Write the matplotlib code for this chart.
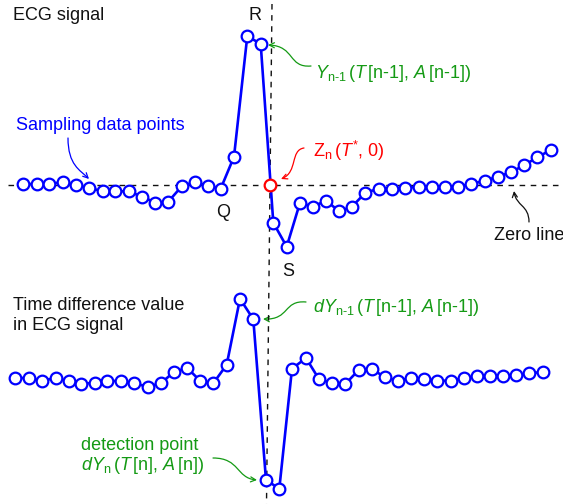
import matplotlib
matplotlib.use("Agg")
import matplotlib.pyplot as plt
from matplotlib.patches import FancyArrowPatch
from matplotlib.path import Path

plt.rcParams['font.family'] = ['Liberation Sans', 'DejaVu Sans']
plt.rcParams['mathtext.fontset'] = 'custom'
plt.rcParams['mathtext.rm'] = 'Liberation Sans'
plt.rcParams['mathtext.it'] = 'Liberation Sans:italic'

# ECG signal samples (time, amplitude), screen units
ecg_t = [22.7, 36.7, 49.3, 63.3, 76, 89.3, 102.7, 115.3, 128.7, 142, 155.3, 168, 182,
         195.3, 208, 220.7, 234, 247.3, 260.7, 273.3, 286.7, 300, 312.7, 326, 339.3,
         352, 365.3, 378.7, 392, 405.3, 418.7, 432, 445.3, 458, 470.7, 484.7, 498,
         511.3, 524, 537.3, 550.7]
ecg_a = [184, 184, 184, 182, 185.3, 188, 191.3, 191.3, 191.3, 196.7, 202.7, 202, 186,
         182, 186, 188.7, 156.7, 36, 44, 222.7, 246.7, 202.7, 206.7, 200.7, 211.3,
         206.7, 192.7, 188.7, 188.7, 188, 186.7, 186.7, 186.7, 186.7, 184, 180.7, 176.7,
         172, 165.3, 157.3, 150]
zero_level = 185
cross_t = 270  # Zn(T*, 0)

# time difference signal
diff_t = [14.7, 28.7, 42, 56, 68.7, 81.3, 94.7, 107.3, 120.7, 134, 148, 160.7, 174,
          187.3, 200, 213.3, 226.7, 240, 253.3, 266, 279.3, 292, 306, 318.7, 332,
          345.3, 358.7, 372, 385.3, 398, 411.3, 424, 437.3, 450.7, 464, 477.3, 490,
          503.3, 516, 529.3, 542.7]
diff_a = [378, 378, 380.7, 378, 381.3, 384, 382.7, 381.3, 380.7, 383.3, 386.7, 383.3,
          372, 368, 380.7, 383.3, 364.7, 298.7, 319.3, 480, 488.7, 368.7, 358, 378.7,
          383.3, 384, 370, 369.3, 377.3, 380.7, 378, 378.7, 380.7, 380.7, 378, 376, 376,
          376, 375.3, 373.3, 372]

BLUE = '#0000ff'
RED = '#ff0000'
GREEN = '#149a14'
BLACK = '#111111'

fig = plt.figure(figsize=(5.63, 5.04), dpi=100)
ax = fig.add_axes([0, 0, 1, 1])
ax.set_xlim(0, 563)
ax.set_ylim(504, 0)
ax.axis('off')

# zero line and detection line
ax.plot([8, 563], [zero_level, zero_level], color=BLACK, lw=1.0, dashes=(4, 4))
ax.plot([272, 266.5], [4, 504], color=BLACK, lw=1.0, dashes=(4, 4))

mk = dict(color=BLUE, lw=1.9, marker='o', markersize=8.4, markerfacecolor='white',
          markeredgecolor=BLUE, markeredgewidth=1.6)
ax.plot(ecg_t, ecg_a, **mk)
ax.plot(diff_t, diff_a, **mk)
ax.plot([cross_t], [zero_level], marker='o', markersize=8.4, markerfacecolor='white',
        markeredgecolor=RED, markeredgewidth=1.6, linestyle='none')


def curved_arrow(p0, c1, c2, p1, color):
    path = Path([p0, c1, c2, p1], [Path.MOVETO, Path.CURVE4, Path.CURVE4, Path.CURVE4])
    arr = FancyArrowPatch(path=path, arrowstyle='->', mutation_scale=9, color=color,
                          lw=0.9, transform=ax.transData)
    ax.add_patch(arr)


fs = 13
ax.text(13, 20, 'ECG signal', fontsize=fs, color=BLACK, va='baseline')
ax.text(248, 20, 'R', fontsize=fs, color=BLACK, va='baseline')
ax.text(216, 217, 'Q', fontsize=fs, color=BLACK, va='baseline')
ax.text(282, 276, 'S', fontsize=fs, color=BLACK, va='baseline')
ax.text(16, 130, 'Sampling data points', fontsize=fs, color=BLUE, va='baseline')
ax.text(494, 240, 'Zero line', fontsize=fs, color=BLACK, va='baseline')
ax.text(12.7, 310, 'Time difference value', fontsize=fs, color=BLACK, va='baseline')
ax.text(12.7, 330, 'in ECG signal', fontsize=fs, color=BLACK, va='baseline')
ax.text(315, 78, r'$Y_{\text{n-1}}\,(T\,\text{[n-1], }A\,\text{[n-1]})$',
        fontsize=fs, color=GREEN, va='baseline')
ax.text(313, 157, r'$\text{Z}_{\text{n}}\,(T^{\text{*}}\text{, 0)}$',
        fontsize=fs, color=RED, va='baseline')
ax.text(313, 311.7, r'$dY_{\text{n-1}}\,(T\,\text{[n-1], }A\,\text{[n-1]})$',
        fontsize=fs, color=GREEN, va='baseline')
ax.text(80.7, 450, 'detection point', fontsize=fs, color=GREEN, va='baseline')
ax.text(80.7, 470, r'$dY_{\text{n}}\,(T\,\text{[n], }A\,\text{[n]})$',
        fontsize=fs, color=GREEN, va='baseline')

curved_arrow((68, 138), (68, 165), (80, 170), (89, 179), BLUE)
curved_arrow((311, 66), (288, 68), (295, 46), (268, 45), GREEN)
curved_arrow((304, 148), (290, 150), (298, 172), (281, 179), RED)
curved_arrow((529, 222), (529, 205), (516, 206), (514, 191), BLACK)
curved_arrow((306, 302), (283, 300), (290, 320), (263, 319), GREEN)
curved_arrow((213, 458), (240, 458), (236, 478), (257, 480), GREEN)

fig.savefig('out.png', dpi=100)
